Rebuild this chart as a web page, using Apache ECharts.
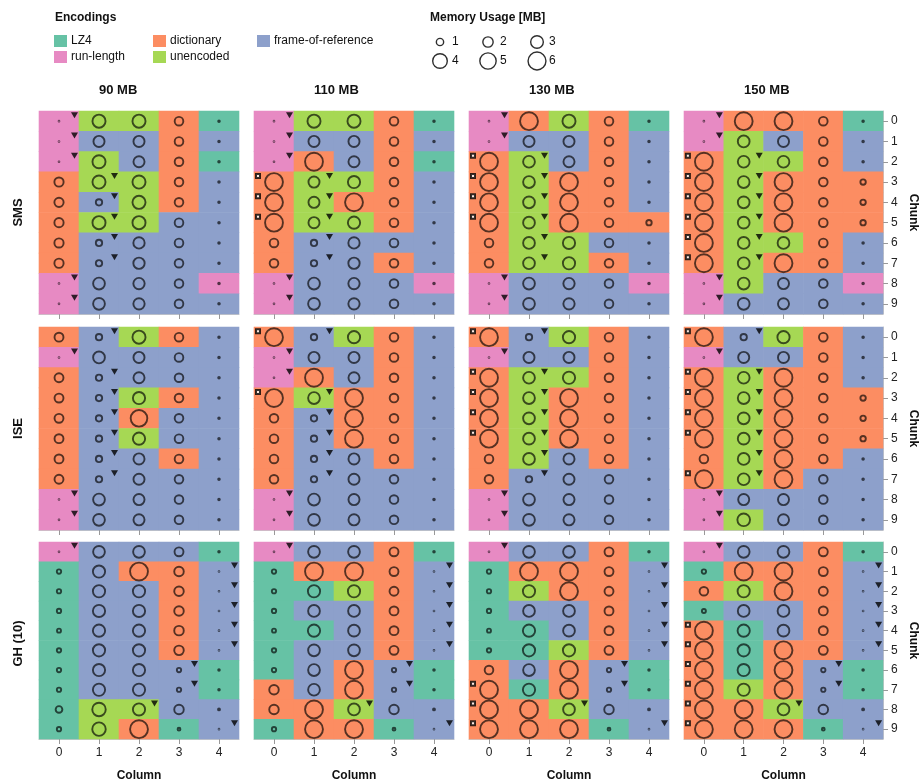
<!DOCTYPE html>
<html>
<head>
<meta charset="utf-8">
<script src="https://cdn.jsdelivr.net/npm/echarts@6/dist/echarts.min.js"></script>
<style>html,body{margin:0;padding:0;background:#fff;}#chart{width:920px;height:783px;}</style>
</head>
<body>
<div id="chart"></div>
<script>
// ---------- categories ----------
const DATASETS = ['SMS', 'ISE', 'GH (10)'];
const BUDGETS = ['90 MB', '110 MB', '130 MB', '150 MB'];
const COLUMNS = ['0', '1', '2', '3', '4'];
const CHUNKS = ['0', '1', '2', '3', '4', '5', '6', '7', '8', '9'];
const ENCODINGS = ['LZ4', 'dictionary', 'frame-of-reference', 'run-length', 'unencoded'];
const ENC_CODES = ['L', 'D', 'F', 'R', 'U'];
const ENC_COLORS = ['#66c2a5', '#fc8d62', '#8da0cb', '#e78ac3', '#a6d854'];
const MEM_LEGEND = [1, 2, 3, 4, 5, 6];

// ---------- encodings per chunk (row) and column: L=LZ4 D=dictionary F=frame-of-reference R=run-length U=unencoded ----------
const enc_SMS_90  = ['RUUDL','RFFDF','RUFDL','DUUDF','DFUDF','DUUFF','DFFFF','DFFFF','RFFFR','RFFFF'];
const enc_SMS_110 = ['RUUDL','RFFDF','RDFDL','DUUDF','DUDDF','DUUDF','DFFFF','DFFDF','RFFFR','RFFFF'];
const enc_SMS_130 = ['RDUDL','RFFDF','DUFDF','DUDDF','DUDDF','DUDDD','DUUFF','DUUDF','RFFFR','RFFFF'];
const enc_SMS_150 = ['RDDDL','RUFDF','DUUDF','DUDDD','DUDDD','DUDDD','DUUDF','DUDDF','RUFFR','RFFFF'];
const enc_ISE_90  = ['DFUDF','RFFFF','DFFFF','DFUDF','DFDFF','DFUFF','DFFDF','DFFFF','RFFFF','RFFFF'];
const enc_ISE_110 = ['DFUDF','RFFDF','RDFDF','DUDDF','DFDDF','DFDDF','DFFDF','DFFFF','RFFFF','RFFFF'];
const enc_ISE_130 = ['DFUDF','RFFDF','DUUDF','DUDDF','DUDDF','DUDDF','DUFDF','DFFFF','RFFFF','RFFFF'];
const enc_ISE_150 = ['DFUDF','RFFDF','DUDDF','DUDDD','DUDDD','DUDDD','DUDDF','DUDFF','RFFFF','RUFFF'];
const enc_GH_90   = ['RFFFL','LFDDF','LFFDF','LFFDF','LFFDF','LFFDF','LFFFL','LFFFL','LUUFF','LUDLF'];
const enc_GH_110  = ['RFFDL','LDDDF','LLUDF','LFFDF','LLFDF','LFFDF','LFDFL','DFDFL','DDUFF','LDDLF'];
const enc_GH_130  = ['RFFDL','LDDDF','LUDDF','LFFDF','LLFDF','LLUDF','DFDFL','DLDFL','DDUFF','DDDLF'];
const enc_GH_150  = ['RFFDL','LDDDF','DUDDF','LFFDF','DLFDF','DLDDF','DLDFL','DUDFL','DDUFF','DDDLF'];

// ---------- memory usage [MB] per chunk (row) and column ----------
const mem_SMS_90 = [
  [0.01,3.2,3.2,1.4,0.05],[0.01,2.3,2.3,1.4,0.05],[0.01,3.2,2.3,1.4,0.05],[1.6,3.2,3.2,1.4,0.05],[1.6,0.75,3.2,1.4,0.05],
  [1.6,3.2,3.2,1.4,0.05],[1.6,0.75,2.4,1.4,0.05],[1.6,0.75,2.4,1.4,0.05],[0.01,2.6,2.4,1.4,0.05],[0.01,2.6,2.4,1.4,0.05]];
const mem_SMS_110 = [
  [0.01,3.2,3.2,1.4,0.05],[0.01,2.3,2.3,1.4,0.05],[0.01,6,2.3,1.4,0.05],[6,2.3,2.8,1.4,0.05],[6,2.3,6,1.4,0.05],
  [6,2.3,2.8,1.4,0.05],[1.4,0.75,2.4,1.4,0.05],[1.4,0.75,2.4,1.4,0.05],[0.01,2.6,2.4,1.4,0.05],[0.01,2.6,2.4,1.4,0.05]];
const mem_SMS_130 = [
  [0.01,6,3.2,1.4,0.05],[0.01,2.3,2.3,1.4,0.05],[6,2.6,2.3,1.4,0.05],[6,2.6,6,1.4,0.05],[6,2.6,6,1.4,0.05],
  [6,2.6,6,1.4,0.55],[1.4,2.6,2.8,1.4,0.05],[1.4,2.6,2.8,1.4,0.05],[0.01,2.6,2.4,1.4,0.05],[0.01,2.6,2.4,1.4,0.05]];
const mem_SMS_150 = [
  [0.01,6,6,1.4,0.05],[0.01,2.6,2.3,1.4,0.05],[6,2.6,2.6,1.4,0.05],[6,2.6,6,1.4,0.55],[6,2.6,6,1.4,0.55],
  [6,2.6,6,1.4,0.55],[6,2.6,2.6,1.4,0.05],[6,2.6,6,1.4,0.05],[0.01,2.6,2.3,1.4,0.05],[0.01,2.6,2.3,1.4,0.05]];
const mem_ISE_90 = [
  [1.5,0.75,3.2,1.4,0.05],[0.01,2.6,2.3,1.4,0.05],[1.5,0.75,2.3,1.4,0.05],[1.5,0.75,2.8,1.4,0.05],[1.5,0.75,5.2,1.4,0.05],
  [1.5,0.75,2.8,1.4,0.05],[1.5,0.75,2.3,1.4,0.05],[1.5,0.75,2.3,1.4,0.05],[0.01,2.6,2.3,1.4,0.05],[0.01,2.6,2.3,1.4,0.05]];
const mem_ISE_110 = [
  [6,0.75,2.8,1.4,0.05],[0.01,2.3,2.3,1.4,0.05],[0.01,6,2.3,1.4,0.05],[6,2.6,6,1.4,0.05],[1.4,0.75,6,1.4,0.05],
  [1.4,0.75,6,1.4,0.05],[1.4,0.75,2.3,1.4,0.05],[1.4,0.75,2.3,1.4,0.05],[0.01,2.6,2.3,1.4,0.05],[0.01,2.6,2.3,1.4,0.05]];
const mem_ISE_130 = [
  [6,0.75,2.8,1.4,0.05],[0.01,2.3,2.3,1.4,0.05],[6,2.6,2.8,1.4,0.05],[6,2.6,6,1.4,0.05],[6,2.6,6,1.4,0.05],
  [6,2.6,6,1.4,0.05],[1.4,2.6,2.3,1.4,0.05],[1.4,0.75,2.3,1.4,0.05],[0.01,2.6,2.3,1.4,0.05],[0.01,2.6,2.3,1.4,0.05]];
const mem_ISE_150 = [
  [6,0.75,2.8,1.4,0.05],[0.01,2.3,2.3,1.4,0.05],[6,2.6,6,1.4,0.05],[6,2.6,6,1.4,0.55],[6,2.6,6,1.4,0.55],
  [6,2.6,6,1.4,0.55],[1.4,2.6,6,1.4,0.05],[6,2.6,6,1.4,0.05],[0.01,2.3,2.3,1.4,0.05],[0.01,3.0,2.3,1.4,0.05]];
const mem_GH_90 = [
  [0.01,2.6,2.6,1.5,0.05],[0.35,2.8,6,1.7,0.01],[0.35,2.8,2.8,1.7,0.01],[0.35,2.8,2.8,1.7,0.01],[0.3,2.8,2.8,1.7,0.01],
  [0.35,2.8,2.8,1.7,0.01],[0.35,2.8,2.8,0.35,0.05],[0.35,2.8,2.8,0.35,0.05],[0.85,3.4,2.8,1.7,0.07],[0.35,3.4,6,0.15,0.01]];
const mem_GH_110 = [
  [0.01,2.6,2.6,1.5,0.05],[0.35,6,6,1.5,0.01],[0.35,2.8,2.8,1.5,0.01],[0.35,2.6,2.6,1.5,0.01],[0.3,2.8,2.6,1.5,0.01],
  [0.35,2.6,2.6,1.5,0.01],[0.35,2.6,6,0.35,0.05],[1.7,2.6,6,0.35,0.05],[1.7,6,2.6,1.7,0.07],[0.35,6,6,0.15,0.01]];
const mem_GH_130 = [
  [0.01,2.6,2.6,1.5,0.05],[0.35,6,6,1.5,0.01],[0.35,2.8,6,1.5,0.01],[0.35,2.6,2.6,1.5,0.01],[0.3,2.8,2.6,1.5,0.01],
  [0.35,2.8,2.8,1.5,0.01],[1.4,2.6,6,0.35,0.05],[6,2.8,6,0.35,0.05],[6,6,2.6,1.7,0.07],[6,6,6,0.15,0.01]];
const mem_GH_150 = [
  [0.01,2.6,2.6,1.5,0.05],[0.35,6,6,1.5,0.01],[1.4,2.8,6,1.5,0.01],[0.3,2.6,2.6,1.5,0.01],[6,2.8,2.6,1.5,0.01],
  [6,2.8,6,1.5,0.01],[6,2.8,6,0.35,0.05],[6,2.8,6,0.35,0.05],[6,6,2.6,1.7,0.07],[6,6,6,0.15,0.01]];

// ---------- markers: t = triangle flag, s = square flag, . = none ----------
const mk_SMS_90  = ['t....','t....','t....','.t...','.t...','.t...','.t...','.t...','t....','t....'];
const mk_SMS_110 = ['t....','t....','t....','st...','st...','st...','.t...','.t...','t....','t....'];
const mk_SMS_130 = ['t....','t....','st...','st...','st...','st...','.t...','.t...','t....','t....'];
const mk_SMS_150 = ['t....','t....','st...','st...','st...','st...','st...','st...','t....','t....'];
const mk_ISE_90  = ['.t...','t....','.t...','.t...','.t...','.t...','.t...','.t...','t....','t....'];
const mk_ISE_110 = ['st...','t....','t....','st...','.t...','.t...','.t...','.t...','t....','t....'];
const mk_ISE_130 = ['st...','t....','st...','st...','st...','st...','.t...','.t...','t....','t....'];
const mk_ISE_150 = ['st...','t....','st...','st...','st...','st...','.t...','st...','t....','t....'];
const mk_GH_90   = ['t....','....t','....t','....t','....t','....t','...t.','...t.','..t..','....t'];
const mk_GH_110  = ['t....','....t','....t','....t','....t','....t','...t.','...t.','..t..','....t'];
const mk_GH_130  = ['t....','....t','....t','....t','....t','....t','...t.','s..t.','s.t..','s...t'];
const mk_GH_150  = ['t....','....t','....t','....t','s...t','s...t','s..t.','s..t.','s.t..','s...t'];

const PANELS = [
  [[enc_SMS_90, mem_SMS_90, mk_SMS_90], [enc_SMS_110, mem_SMS_110, mk_SMS_110], [enc_SMS_130, mem_SMS_130, mk_SMS_130], [enc_SMS_150, mem_SMS_150, mk_SMS_150]],
  [[enc_ISE_90, mem_ISE_90, mk_ISE_90], [enc_ISE_110, mem_ISE_110, mk_ISE_110], [enc_ISE_130, mem_ISE_130, mk_ISE_130], [enc_ISE_150, mem_ISE_150, mk_ISE_150]],
  [[enc_GH_90, mem_GH_90, mk_GH_90], [enc_GH_110, mem_GH_110, mk_GH_110], [enc_GH_130, mem_GH_130, mk_GH_130], [enc_GH_150, mem_GH_150, mk_GH_150]]
];

// ---------- layout / style ----------
const FONT = "'Liberation Sans', Arial, Helvetica, sans-serif";
const GRID_LEFT = [39, 254, 469, 684];
const GRID_TOP = [111, 327, 542];
const GRID_W = 200, GRID_H = 203;
const SIZE_K = 7.3;
const CIRCLE_STROKE = 'rgba(0,0,0,0.82)';
const sizeOf = v => SIZE_K * Math.sqrt(v);

const grids = [], xAxes = [], yAxes = [], series = [];
let gi = 0;
for (let r = 0; r < DATASETS.length; r++) {
  for (let c = 0; c < BUDGETS.length; c++) {
    const [enc, mem, mk] = PANELS[r][c];
    grids.push({ left: GRID_LEFT[c], top: GRID_TOP[r], width: GRID_W, height: GRID_H, containLabel: false });
    xAxes.push({
      gridIndex: gi, type: 'category', data: COLUMNS,
      axisLine: { show: true, lineStyle: { color: '#c8c8c8', width: 1 } },
      axisTick: { show: true, alignWithLabel: true, length: 5, lineStyle: { color: '#999' } },
      axisLabel: { show: r === 2, color: '#222', fontSize: 12, margin: 8, fontFamily: FONT },
      splitLine: { show: false },
      name: r === 2 ? 'Column' : '', nameLocation: 'middle', nameGap: 31,
      nameTextStyle: { fontWeight: 'bold', fontSize: 12, color: '#111', fontFamily: FONT }
    });
    yAxes.push({
      gridIndex: gi, type: 'category', data: CHUNKS, inverse: true, position: 'right',
      axisLine: { show: c === 3, lineStyle: { color: '#c8c8c8' } },
      axisTick: { show: c === 3, alignWithLabel: true, length: 5, lineStyle: { color: '#999' } },
      axisLabel: { show: c === 3, color: '#222', fontSize: 12, margin: 8, fontFamily: FONT },
      splitLine: { show: false },
      name: c === 3 ? 'Chunk' : '', nameLocation: 'middle', nameRotate: -90, nameGap: 24,
      nameTextStyle: { fontWeight: 'bold', fontSize: 12, color: '#111', fontFamily: FONT }
    });
    const cells = [], circles = [], tris = [], squares = [];
    for (let row = 0; row < CHUNKS.length; row++) {
      for (let col = 0; col < COLUMNS.length; col++) {
        cells.push([col, row, ENC_CODES.indexOf(enc[row][col])]);
        circles.push([col, row, mem[row][col]]);
        if (mk[row][col] === 't') tris.push([col, row]);
        if (mk[row][col] === 's') squares.push([col, row]);
      }
    }
    series.push({
      type: 'custom', xAxisIndex: gi, yAxisIndex: gi, z: 1, silent: true,
      data: cells,
      renderItem: function (params, api) {
        const p = api.coord([api.value(0), api.value(1)]);
        const s = api.size([1, 1]);
        return {
          type: 'rect',
          shape: { x: p[0] - s[0] / 2 - 0.3, y: p[1] - s[1] / 2 - 0.3, width: s[0] + 0.6, height: s[1] + 0.6 },
          style: { fill: ENC_COLORS[api.value(2)] }
        };
      }
    });
    series.push({
      type: 'scatter', xAxisIndex: gi, yAxisIndex: gi, z: 3, silent: true,
      data: circles, symbol: 'circle',
      symbolSize: v => sizeOf(v[2]),
      itemStyle: { color: 'rgba(0,0,0,0)', borderColor: CIRCLE_STROKE, borderWidth: 1.9 }
    });
    series.push({
      type: 'scatter', xAxisIndex: gi, yAxisIndex: gi, z: 4, silent: true,
      data: tris, symbol: 'triangle', symbolRotate: 180, symbolSize: [7, 6], symbolOffset: [15.5, -6],
      itemStyle: { color: '#000' }
    });
    series.push({
      type: 'scatter', xAxisIndex: gi, yAxisIndex: gi, z: 4, silent: true,
      data: squares, symbol: 'rect', symbolSize: 4, symbolOffset: [-16, -6],
      itemStyle: { color: '#fff', borderColor: '#000', borderWidth: 2 }
    });
    gi++;
  }
}

// ---------- titles + legends (graphic) ----------
const graphics = [];
BUDGETS.forEach((b, c) => {
  graphics.push({ type: 'text', left: GRID_LEFT[c] + GRID_W / 2 - 40, top: 84,
    style: { text: b, font: 'bold 13px ' + FONT, fill: '#111', width: 80, align: 'center' } });
});
DATASETS.forEach((d, r) => {
  graphics.push({ type: 'text', x: 18, y: GRID_TOP[r] + GRID_H / 2, rotation: Math.PI / 2,
    style: { text: d, font: 'bold 13px ' + FONT, fill: '#111', align: 'center', verticalAlign: 'middle' } });
});
// encodings legend
graphics.push({ type: 'text', x: 55, y: 12, style: { text: 'Encodings', font: 'bold 12px ' + FONT, fill: '#111' } });
const ENC_LEG_POS = [[54, 35], [153, 35], [257, 35], [54, 51], [153, 51]];
const ENC_LEG_ORDER = [0, 1, 2, 3, 4];
ENC_LEG_ORDER.forEach((e, i) => {
  const [x, y] = ENC_LEG_POS[i];
  graphics.push({ type: 'rect', shape: { x: x, y: y, width: 13, height: 12 }, style: { fill: ENC_COLORS[e] } });
  graphics.push({ type: 'text', x: x + 17, y: y + 6, style: { text: ENCODINGS[e], font: '12px ' + FONT, fill: '#111', verticalAlign: 'middle' } });
});
// memory legend
graphics.push({ type: 'text', x: 430, y: 12, style: { text: 'Memory Usage [MB]', font: 'bold 12px ' + FONT, fill: '#111' } });
const MEM_LEG_X = [440, 488, 537];
const MEM_LEG_Y = [42, 61];
MEM_LEGEND.forEach((m, i) => {
  const cx = MEM_LEG_X[i % 3], cy = MEM_LEG_Y[Math.floor(i / 3)];
  graphics.push({ type: 'circle', shape: { cx: cx, cy: cy, r: sizeOf(m) / 2 },
    style: { fill: 'none', stroke: CIRCLE_STROKE, lineWidth: 1.4 } });
  graphics.push({ type: 'text', x: cx + 12, y: cy, style: { text: String(m), font: '12px ' + FONT, fill: '#111', verticalAlign: 'middle' } });
});

const chart = echarts.init(document.getElementById('chart'), null, { renderer: 'canvas' });
chart.setOption({
  animation: false,
  backgroundColor: '#fff',
  textStyle: { fontFamily: FONT },
  grid: grids, xAxis: xAxes, yAxis: yAxes, series: series, graphic: graphics
});
</script>
</body>
</html>
